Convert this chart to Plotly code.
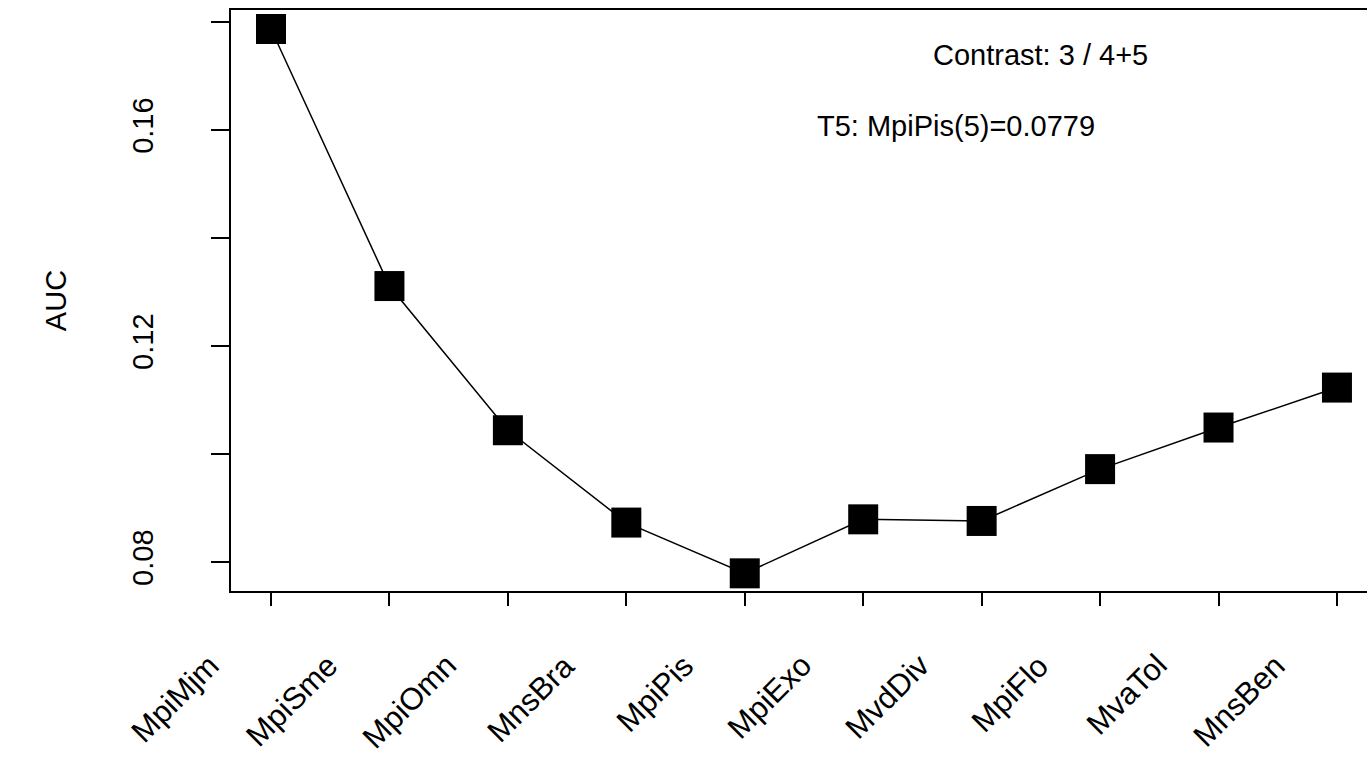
import plotly.graph_objects as go

categories = ["MpiMjm", "MpiSme", "MpiOmn", "MnsBra", "MpiPis",
              "MpiExo", "MvdDiv", "MpiFlo", "MvaTol", "MnsBen"]
auc_values = [0.1787, 0.1311, 0.1044, 0.0873, 0.0779,
              0.0879, 0.0876, 0.0972, 0.1049, 0.1123]
y_tick_vals = [0.08, 0.10, 0.12, 0.14, 0.16, 0.18]
y_tick_text = ["0.08", "", "0.12", "", "0.16", ""]
title_text = "Contrast: 3 / 4+5"
best_text = "T5: MpiPis(5)=0.0779"

FONT = "Liberation Sans, Arial, sans-serif"
FS = 29
x_idx = list(range(1, len(categories) + 1))

fig = go.Figure()
fig.add_trace(go.Scatter(
    x=x_idx, y=auc_values, mode="lines+markers",
    line=dict(color="black", width=1.5),
    marker=dict(symbol="square", size=30, color="black"),
    showlegend=False, hoverinfo="skip",
))

W, H = 1367, 780
L, R, T, B = 231, 0, 10, 189
pw, ph = W - L - R, H - T - B

def px_x(p):
    return (p - L) / pw

def px_y(p):
    return (H - B - p) / ph

annotations = []
for i, c in zip(x_idx, categories):
    annotations.append(dict(
        x=i, y=px_y(645), xref="x", yref="paper", text=c, showarrow=False,
        textangle=-45, xanchor="right", yanchor="top", xshift=-42,
        font=dict(family=FONT, size=31, color="black"),
    ))
annotations.append(dict(
    x=px_x(1040), y=px_y(55), xref="paper", yref="paper", text=title_text,
    showarrow=False, xanchor="center", yanchor="middle",
    font=dict(family=FONT, size=FS, color="black"),
))
annotations.append(dict(
    x=px_x(956), y=px_y(126), xref="paper", yref="paper", text=best_text,
    showarrow=False, xanchor="center", yanchor="middle",
    font=dict(family=FONT, size=FS, color="black"),
))

x_unit = 118.44
fig.update_layout(
    width=W, height=H,
    margin=dict(l=L, r=R, t=T, b=B, pad=0),
    plot_bgcolor="white", paper_bgcolor="white",
    font=dict(family=FONT, size=FS, color="black"),
    annotations=annotations,
    xaxis=dict(
        range=[1 - 40 / x_unit, 1 + (pw - 40) / x_unit],
        tickvals=x_idx, ticktext=[""] * len(x_idx),
        ticks="outside", ticklen=13, tickwidth=1.5, tickcolor="black",
        showline=True, linecolor="black", linewidth=2, mirror=True,
        showgrid=False, zeroline=False,
    ),
    yaxis=dict(
        range=[0.07463, 0.18222],
        tickvals=y_tick_vals, ticktext=y_tick_text, tickangle=-90,
        ticks="outside", ticklen=18, tickwidth=1.5, tickcolor="black",
        ticklabelstandoff=47,
        tickfont=dict(family=FONT, size=FS, color="black"),
        showline=True, linecolor="black", linewidth=1.5,
        showgrid=False, zeroline=False,
        title=dict(text="AUC", standoff=52,
                   font=dict(family=FONT, size=FS, color="black")),
    ),
)

fig.write_html(
    "out.html",
    config={"displayModeBar": False},
    post_script="document.body.style.margin='0';document.body.style.overflow='hidden';",
)
